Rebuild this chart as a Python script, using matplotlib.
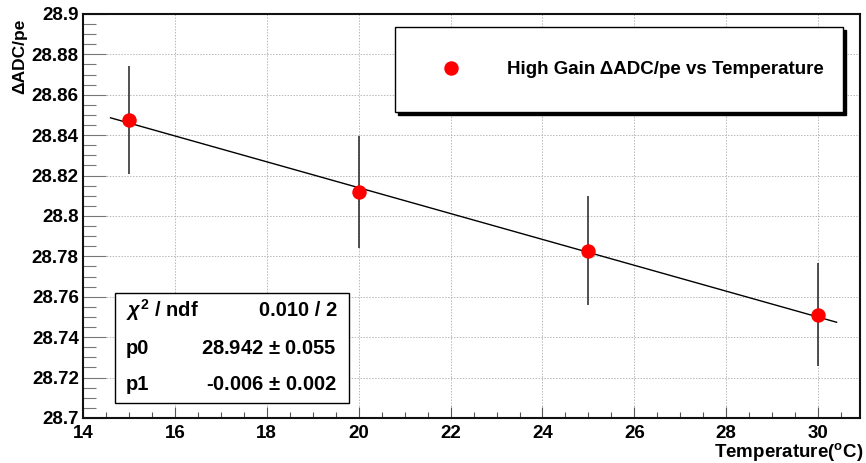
import numpy as np
import matplotlib.pyplot as plt
from matplotlib.patches import Rectangle, Shadow
from matplotlib.ticker import MultipleLocator, FuncFormatter

plt.rcParams['font.family'] = ['Liberation Sans', 'DejaVu Sans']
plt.rcParams['font.weight'] = 'bold'
plt.rcParams['mathtext.fontset'] = 'custom'
plt.rcParams['mathtext.rm'] = 'Liberation Sans:bold'
plt.rcParams['mathtext.it'] = 'Liberation Sans:italic'
plt.rcParams['mathtext.bf'] = 'Liberation Sans:bold'

# measured points
temperature = [15, 20, 25, 30]
adc_per_pe = [28.8475, 28.8119, 28.7827, 28.7510]
adc_err = [0.0268, 0.0275, 0.0270, 0.0255]

# linear fit drawn over its fit range
fit_x = [14.6, 30.4]
fit_y = [28.8486, 28.7474]

stat_names = [r'$\chi^{2}$ / ndf', 'p0', 'p1']
stat_values = ['0.010 / 2', '28.942 $\\pm$ 0.055', '-0.006 $\\pm$ 0.002']

fig = plt.figure(figsize=(8.66, 4.63), dpi=100)
ax = fig.add_axes([0.0958, 0.0972, 0.8973, 0.8726])

ax.plot(fit_x, fit_y, color='k', lw=1.0, zorder=3)
ax.errorbar(temperature, adc_per_pe, yerr=adc_err, fmt='none', ecolor='#222222',
            elinewidth=1.1, capsize=0, zorder=3)
ax.plot(temperature, adc_per_pe, 'o', color='#ff0000', ms=9.4, mec='#ff0000', zorder=4,
        label='High Gain \u0394ADC/pe vs Temperature')

ax.set_xlim(14, 30.91)
ax.set_ylim(28.7, 28.9)

ax.xaxis.set_major_locator(MultipleLocator(2))
ax.xaxis.set_minor_locator(MultipleLocator(0.5))
ax.yaxis.set_major_locator(MultipleLocator(0.02))
ax.yaxis.set_minor_locator(MultipleLocator(0.005))
ax.yaxis.set_major_formatter(FuncFormatter(lambda v, p: '%g' % round(v, 3)))
ax.xaxis.set_major_formatter(FuncFormatter(lambda v, p: '%g' % v))

ax.tick_params(axis='x', which='major', direction='in', length=8, width=0.8,
               color='#555555', labelsize=13.5, pad=5)
ax.tick_params(axis='x', which='minor', direction='in', length=4, width=0.8, color='#555555')
ax.tick_params(axis='y', which='major', direction='in', length=16.5, width=0.8,
               color='#777777', labelsize=13.5, pad=3)
ax.tick_params(axis='y', which='minor', direction='in', length=9, width=0.8, color='#777777')
for lab in ax.get_xticklabels() + ax.get_yticklabels():
    lab.set_fontweight('bold')

ax.grid(True, which='major', linestyle=(0, (1.5, 1.5)), color='#b8b8b8', lw=0.7)
ax.set_axisbelow(True)
for sp in ax.spines.values():
    sp.set_linewidth(1.5)
    sp.set_color('#111111')

fig.text(20 / 866, 1 - 19 / 463, '\u0394ADC/pe', rotation=90, ha='center', va='top',
         fontsize=12.5, fontweight='bold')
fig.text(863 / 866, 1 - 457 / 463, 'Temperature($^{\\mathrm{o}}$C)', ha='right', va='baseline',
         fontsize=13.5, fontweight='bold')

# legend box
leg = ax.legend(loc='upper left', bbox_to_anchor=(0.4015, 0.968, 0.5765, 0.0),
                mode='expand', borderaxespad=0, borderpad=1.82, handlelength=2.34,
                handletextpad=1.82, fancybox=False, framealpha=1, edgecolor='k',
                shadow={'color': 'k', 'alpha': 1},
                prop={'family': 'Liberation Sans', 'weight': 'bold', 'size': 13.5})
leg.get_frame().set_linewidth(1.0)

# fit statistics box
box = Rectangle((0.0412, 0.0371), 0.3011, 0.2723, transform=ax.transAxes,
                facecolor='white', edgecolor='k', lw=1.0, zorder=6)
ax.add_patch(Shadow(box, 2, -2, facecolor='k', edgecolor='k', alpha=1, zorder=5.9))
ax.add_patch(box)
rows_y = [0.267, 0.173, 0.0817]
for name, val, yy in zip(stat_names, stat_values, rows_y):
    ax.text(0.0553, yy, name, transform=ax.transAxes, ha='left', va='center',
            fontsize=14.5, fontweight='bold', zorder=7)
    ax.text(0.3269, yy, val, transform=ax.transAxes, ha='right', va='center',
            fontsize=14.5, fontweight='bold', zorder=7)

fig.savefig('out.png', dpi=100)
